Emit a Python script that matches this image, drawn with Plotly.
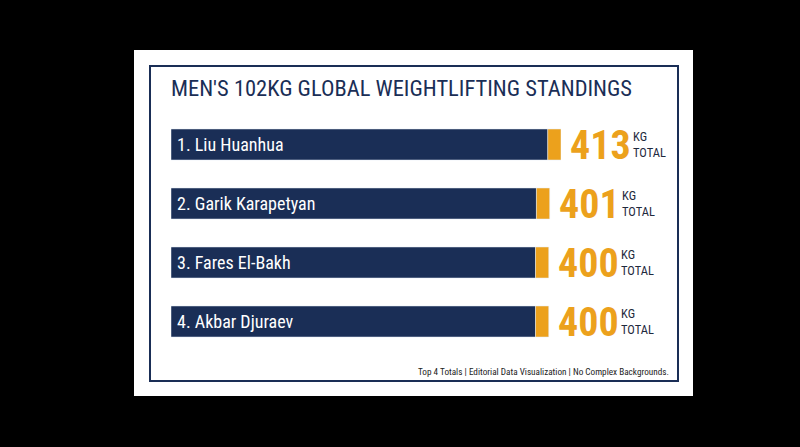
import plotly.graph_objects as go

# standings data
athletes = ["1. Liu Huanhua", "2. Garik Karapetyan", "3. Fares El-Bakh", "4. Akbar Djuraev"]
totals = [413, 401, 400, 400]
accent_kg = [14, 14, 14, 14]  # orange tip segment on each bar

NAVY = "#1a2e56"
ORANGE = "#eca11c"
FONT = "Roboto Condensed, Liberation Sans Narrow, Roboto, sans-serif"

W, H = 800, 447


def px_x(x):
    return x / W


def px_y(y):
    return 1 - y / H


base = [t - a for t, a in zip(totals, accent_kg)]

fig = go.Figure()
fig.add_trace(go.Bar(y=athletes, x=base, orientation="h", marker_color=NAVY,
                     width=0.525, hoverinfo="skip"))
fig.add_trace(go.Bar(y=athletes, x=accent_kg, base=base, orientation="h",
                     marker_color=ORANGE, width=0.525, hoverinfo="skip"))

# names inside the bars
for name in athletes:
    fig.add_annotation(x=0, y=name, text=name, xanchor="left", xshift=4,
                       showarrow=False, font=dict(family=FONT, size=18, color="white"))

# totals to the right of each bar
for name, t in zip(athletes, totals):
    fig.add_annotation(x=t, y=name, text=f"<b>{t}</b>", xanchor="left", xshift=7, yshift=-1,
                       showarrow=False, font=dict(family=FONT, size=40, color=ORANGE))
    fig.add_annotation(x=t, y=name, text="KG<br>TOTAL", xanchor="left", xshift=70, align="left",
                       showarrow=False, font=dict(family=FONT, size=12.5, color="#1f2a3d"))

fig.add_annotation(xref="paper", yref="paper", x=px_x(169), y=px_y(88),
                   text="MEN'S 102KG GLOBAL WEIGHTLIFTING STANDINGS", xanchor="left",
                   yanchor="middle", showarrow=False,
                   font=dict(family=FONT, size=22.5, color=NAVY))
fig.add_annotation(xref="paper", yref="paper", x=px_x(671), y=px_y(371),
                   text="Top 4 Totals | Editorial Data Visualization | No Complex Backgrounds.",
                   xanchor="right", yanchor="middle", showarrow=False,
                   font=dict(family=FONT, size=9.2, color="#222222"))

# card + frame
fig.add_shape(type="rect", xref="paper", yref="paper", layer="below",
              x0=px_x(134), x1=px_x(693), y0=px_y(396), y1=px_y(50),
              fillcolor="white", line_width=0)
fig.add_shape(type="rect", xref="paper", yref="paper", layer="below",
              x0=px_x(150), x1=px_x(678), y0=px_y(381), y1=px_y(66),
              fillcolor="rgba(0,0,0,0)", line=dict(color=NAVY, width=2))

fig.update_layout(
    width=W, height=H, barmode="overlay", showlegend=False,
    paper_bgcolor="black", plot_bgcolor="rgba(0,0,0,0)",
    margin=dict(l=0, r=0, t=0, b=0),
    xaxis=dict(domain=[px_x(171), px_x(561)], range=[0, 413], visible=False, fixedrange=True),
    yaxis=dict(domain=[px_y(351), px_y(115)], autorange="reversed", visible=False,
               fixedrange=True, categoryorder="array", categoryarray=athletes),
)

fig.write_html("out.html", config={"displayModeBar": False},
               post_script="document.body.style.margin='0';")
